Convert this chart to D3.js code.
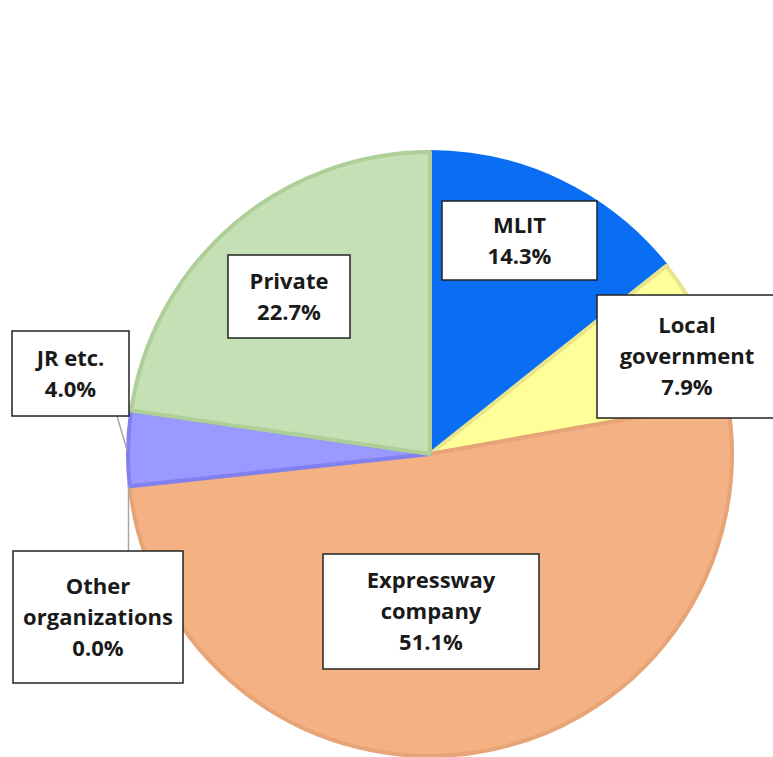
<!DOCTYPE html>
<html>
<head>
<meta charset="utf-8">
<script src="https://cdn.jsdelivr.net/npm/d3@7"></script>
<style>
  body { margin: 0; background: #fff; }
  svg { display: block; }
</style>
</head>
<body>
<div id="main"></div>
<script>
const ctx = {
    w: 773,
    h: 757,
};

// data, clockwise from 12 o'clock
const categories = ["MLIT", "Local government", "Expressway company", "Other organizations", "JR etc.", "Private"];
const shares = [14.3, 7.9, 51.1, 0.0, 4.0, 22.7];
const labelLines = [
    ["MLIT", "14.3%"],
    ["Local", "government", "7.9%"],
    ["Expressway", "company", "51.1%"],
    ["Other", "organizations", "0.0%"],
    ["JR etc.", "4.0%"],
    ["Private", "22.7%"]
];

const fills = ["#0a6ef5", "#ffff99", "#f4b183", "#9999ff", "#9999ff", "#c5e0b4"];
const strokes = ["#0a6ef5", "#e9e58a", "#e6a477", "#8080f0", "#8080f0", "#aecf98"];

// label boxes (x, y, w, h) and leader lines
const boxes = [
    [442, 201, 155, 79],
    [597, 295, 180, 123],
    [323, 554, 216, 115],
    [13, 551, 170, 132],
    [12, 331, 117, 85],
    [228, 255, 122, 83]
];
const leaders = {
    3: [[128.5, 486], [128.5, 551]],
    4: [[117, 416], [127, 450]]
};

function createViz() {
    const svgEl = d3.select("#main").append("svg")
        .attr("width", ctx.w)
        .attr("height", ctx.h);

    const cx = 430, cy = 454, r = 302;

    const pie = d3.pie().sort(null).value(d => d);
    const arc = d3.arc().innerRadius(0).outerRadius(r);
    const arcs = pie(shares);

    const g = svgEl.append("g").attr("transform", `translate(${cx},${cy})`);

    g.selectAll("path")
        .data(arcs)
        .enter().append("path")
        .attr("d", arc)
        .style("fill", (d, i) => fills[i])
        .style("stroke", (d, i) => strokes[i])
        .style("stroke-width", (d, i) => d.value > 0 ? 4 : 0)
        .style("stroke-linejoin", "round");

    // leader lines
    Object.keys(leaders).forEach(k => {
        svgEl.append("path")
            .attr("d", d3.line()(leaders[k]))
            .style("fill", "none")
            .style("stroke", "#a6a6a6")
            .style("stroke-width", 1.5);
    });

    // label boxes
    const lab = svgEl.selectAll(".lab")
        .data(categories)
        .enter().append("g")
        .attr("class", "lab");

    lab.append("rect")
        .attr("x", (d, i) => boxes[i][0])
        .attr("y", (d, i) => boxes[i][1])
        .attr("width", (d, i) => boxes[i][2])
        .attr("height", (d, i) => boxes[i][3])
        .style("fill", "#fff")
        .style("stroke", "#222")
        .style("stroke-width", 1.5);

    lab.each(function(d, i) {
        const lines = labelLines[i];
        const b = boxes[i];
        const lh = 31;
        const midY = b[1] + b[3] / 2;
        const t = d3.select(this).append("text")
            .attr("text-anchor", "middle")
            .style("font-family", "'Open Sans', sans-serif")
            .style("font-weight", "bold")
            .style("font-size", "22px")
            .style("fill", "#1a1a1a");
        lines.forEach((s, j) => {
            t.append("tspan")
                .attr("x", b[0] + b[2] / 2)
                .attr("y", midY + (j - (lines.length - 1) / 2) * lh)
                .attr("dy", "0.35em")
                .text(s);
        });
    });
}

createViz();
</script>
</body>
</html>
